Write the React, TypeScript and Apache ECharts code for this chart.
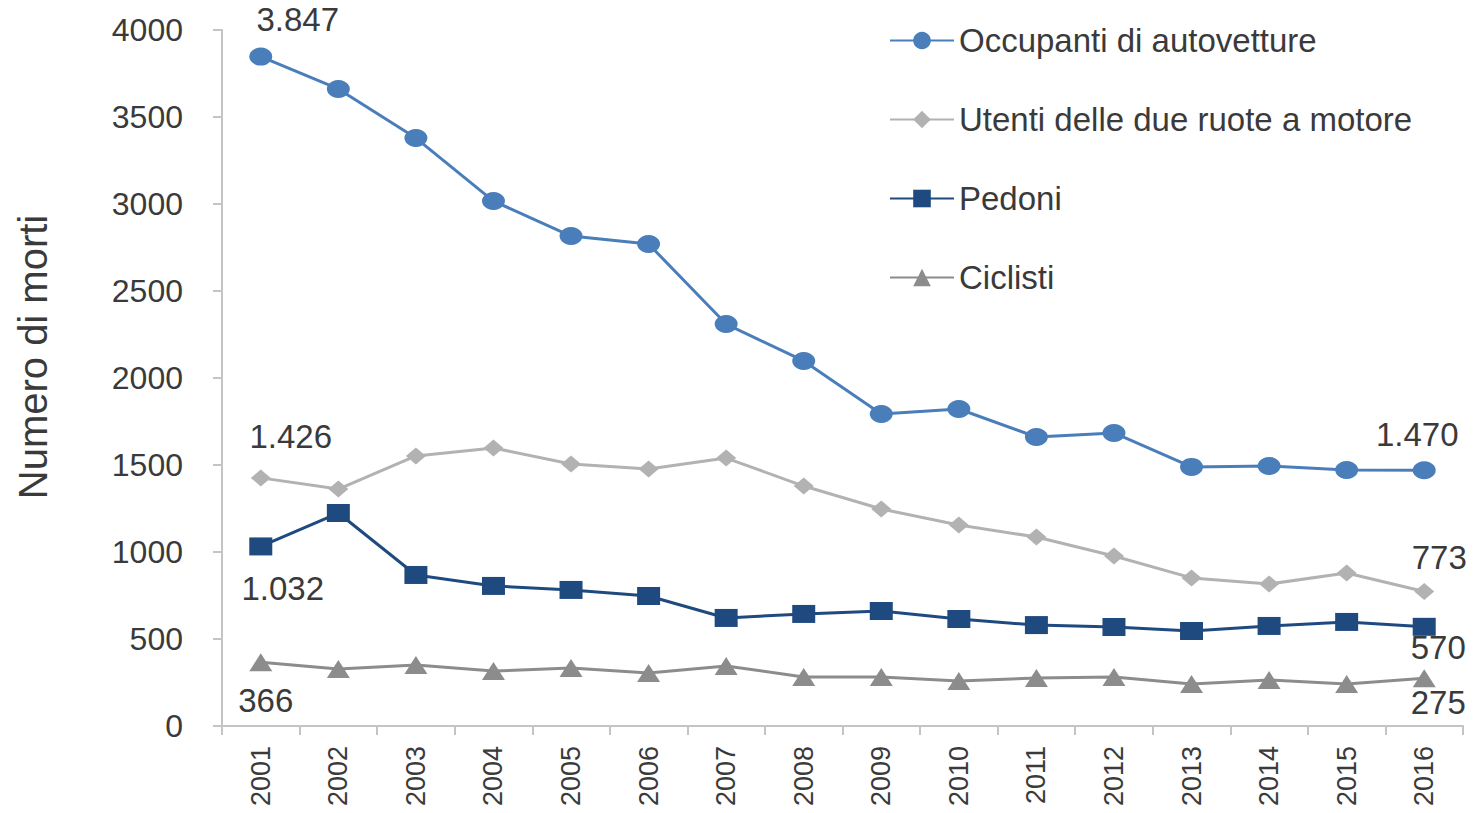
import React, { useEffect, useRef } from "react";
import * as echarts from "echarts";

// Road deaths in Italy by road-user category, 2001–2016
const years = [
  "2001", "2002", "2003", "2004", "2005", "2006", "2007", "2008",
  "2009", "2010", "2011", "2012", "2013", "2014", "2015", "2016",
];
const occupanti = [3847, 3661, 3379, 3017, 2816, 2770, 2310, 2098, 1793, 1822, 1661, 1684, 1489, 1494, 1471, 1470];
const dueRuote = [1426, 1362, 1552, 1598, 1506, 1477, 1540, 1379, 1247, 1155, 1086, 977, 851, 816, 879, 773];
const pedoni = [1032, 1224, 868, 805, 782, 747, 621, 644, 661, 615, 580, 569, 546, 575, 598, 570];
const ciclisti = [366, 328, 351, 316, 333, 305, 345, 282, 282, 259, 276, 282, 241, 264, 241, 275];

const seriesNames = [
  "Occupanti di autovetture",
  "Utenti delle due ruote a motore",
  "Pedoni",
  "Ciclisti",
];
const yTicks = { min: 0, max: 4000, step: 500 };
const yTitle = "Numero di morti";

const FONT = "'Liberation Sans', Arial, sans-serif";
const TEXT = "#3a3a3a";

// Italian thousands separator
const fmt = (v: number) => String(v).replace(/\B(?=(\d{3})+(?!\d))/g, ".");

// Attach value labels to the first and last point of a series
function withEndLabels(values: number[], first: [number, number], last: [number, number]) {
  return values.map((v, i) => {
    const off = i === 0 ? first : i === values.length - 1 ? last : null;
    if (!off) return v;
    return {
      value: v,
      label: {
        show: true,
        position: "inside",
        offset: off,
        formatter: fmt(v),
        fontSize: 33,
        fontFamily: FONT,
        color: TEXT,
      },
    };
  });
}

export default function App() {
  const ref = useRef<HTMLDivElement>(null);

  useEffect(() => {
    document.body.style.margin = "0";
    if (!ref.current) return;
    const chart = echarts.init(ref.current, null, { renderer: "svg" });

    const lineSeries = (
      name: string,
      data: any[],
      color: string,
      symbol: string,
      size: number[],
      z: number
    ) => ({
      type: "line",
      name,
      data,
      z,
      symbol,
      symbolSize: size,
      showAllSymbol: true,
      lineStyle: { color, width: 3 },
      itemStyle: { color, borderWidth: 0 },
      emphasis: { disabled: true },
    });

    chart.setOption({
      animation: false,
      backgroundColor: "#ffffff",
      textStyle: { fontFamily: FONT },
      grid: { left: 222, right: 17, top: 30, bottom: 87, containLabel: false },
      legend: {
        orient: "vertical",
        left: 884,
        top: 19,
        itemWidth: 64,
        itemHeight: 22,
        itemGap: 46,
        data: seriesNames,
        textStyle: { fontSize: 33, color: TEXT, fontFamily: FONT, lineHeight: 33 },
      },
      graphic: [
        {
          type: "text",
          x: 33,
          y: 357,
          rotation: Math.PI / 2,
          style: {
            text: yTitle,
            fontSize: 40,
            fontFamily: FONT,
            fill: TEXT,
            align: "center",
            verticalAlign: "middle",
          },
        },
      ],
      xAxis: {
        type: "category",
        data: years,
        boundaryGap: true,
        axisLine: { show: true, lineStyle: { color: "#c4c4c4", width: 2 } },
        axisTick: { show: true, length: 9, alignWithLabel: false, lineStyle: { color: "#c4c4c4", width: 2 } },
        axisLabel: { rotate: 90, fontSize: 27, color: TEXT, margin: 20, fontFamily: FONT },
        splitLine: { show: false },
      },
      yAxis: {
        type: "value",
        min: yTicks.min,
        max: yTicks.max,
        interval: yTicks.step,
        axisLine: { show: true, lineStyle: { color: "#c4c4c4", width: 2 } },
        axisTick: { show: true, length: 9, lineStyle: { color: "#c4c4c4", width: 2 } },
        axisLabel: {
          fontSize: 32,
          color: TEXT,
          margin: 39,
          fontFamily: FONT,
          formatter: (v: number) => String(v),
        },
        splitLine: { show: false },
      },
      series: [
        lineSeries(seriesNames[0], withEndLabels(occupanti, [37, -37], [-7, -36]), "#4a7ebb", "circle", [23, 18], 4),
        lineSeries(seriesNames[1], withEndLabels(dueRuote, [30, -41], [15, -34]), "#b2b2b2", "diamond", [20, 17], 2),
        lineSeries(seriesNames[2], withEndLabels(pedoni, [22, 42], [14, 21]), "#1f4a7f", "rect", [23, 18], 3),
        lineSeries(seriesNames[3], withEndLabels(ciclisti, [5, 38], [14, 24]), "#8c8c8c", "triangle", [23, 18], 1),
      ],
    });

    return () => chart.dispose();
  }, []);

  return <div ref={ref} style={{ width: 1480, height: 813 }} />;
}
